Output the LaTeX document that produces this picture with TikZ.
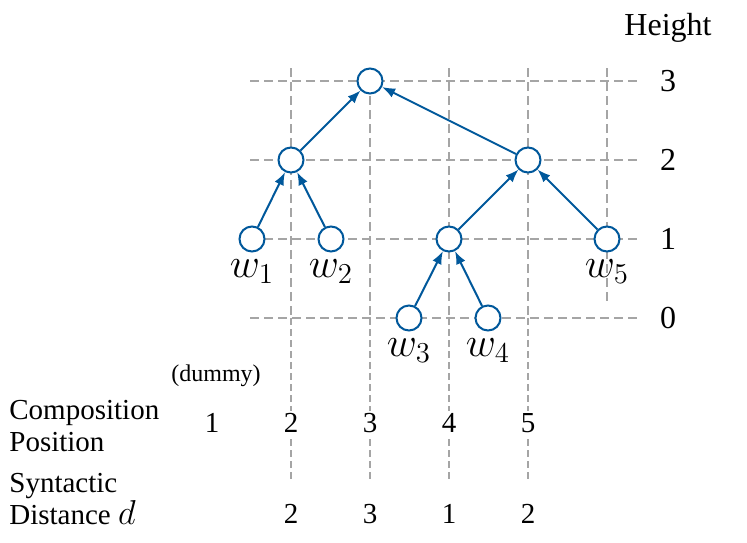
\documentclass[tikz,border=0pt]{standalone}
\usepackage{fontspec}
\setmainfont{Liberation Serif}
\usetikzlibrary{arrows.meta}
\definecolor{treeblue}{RGB}{0,88,155}
\definecolor{gridgray}{RGB}{165,165,165}
\begin{document}
\begin{tikzpicture}[x=0.5pt,y=-0.5pt,
  tnode/.style={circle,draw=treeblue,line width=1pt,fill=white,minimum size=12.5pt,inner sep=0pt},
  edge/.style={draw=treeblue,line width=1pt,-{Latex[length=6.5pt,width=5pt]}},
  gridline/.style={draw=gridgray,line width=0.85pt,dash pattern=on 4.5pt off 2.5pt},
  thingrid/.style={draw=gridgray,line width=0.55pt,dash pattern=on 3.5pt off 2pt},
  wlab/.style={font=\fontsize{20}{24}\selectfont,label distance=0pt},
  txt/.style={font=\fontsize{14.5}{16.4}\selectfont,inner sep=0pt},
  htxt/.style={font=\fontsize{16}{19}\selectfont,inner sep=0pt}]
\useasboundingbox (0,0) rectangle (747,542);
% grid
\foreach \y in {81,160,239,318} \draw[gridline] (250,\y) -- (640,\y);
\foreach \x in {291,370,449,528} {
  \draw[gridline] (\x,68) -- (\x,318);
  \draw[thingrid] (\x,318) -- (\x,482);
}
\draw[gridline] (607,68) -- (607,303);
% nodes
\node[tnode] (r) at (370,81) {};
\node[tnode] (a) at (291,160) {};
\node[tnode] (b) at (528,160) {};
\node[tnode,label={[wlab]below:$w_1$}] (n1) at (252,239) {};
\node[tnode,label={[wlab]below:$w_2$}] (n2) at (331,239) {};
\node[tnode] (c) at (449,239) {};
\node[tnode,label={[wlab]below:$w_5$}] (n5) at (607,239) {};
\node[tnode,label={[wlab]below:$w_3$}] (n3) at (409,318) {};
\node[tnode,label={[wlab]below:$w_4$}] (n4) at (488,318) {};
% edges
\draw[edge] (a) -- (r);
\draw[edge] (b) -- (r);
\draw[edge] (n1) -- (a);
\draw[edge] (n2) -- (a);
\draw[edge] (c) -- (b);
\draw[edge] (n5) -- (b);
\draw[edge] (n3) -- (c);
\draw[edge] (n4) -- (c);
% height labels
\node[htxt] (ht) at (668,28) {Height};
\node[htxt] (h3) at (668,81) {3};
\node[htxt] (h2) at (668,160) {2};
\node[htxt] (h1) at (668,239) {1};
\node[htxt] (h0) at (668,318) {0};
% bottom
\node[font=\fontsize{12}{14}\selectfont,inner sep=0pt] (dm) at (216,376) {(dummy)};
\node[txt,anchor=base west] (cp1) at (9,419) {Composition};
\node[txt,anchor=base west] (cp2) at (9,451.5) {Position};
\node[txt,anchor=base west] (sd1) at (9,492) {Syntactic};
\node[txt,anchor=base west] (sd2) at (9,524) {Distance \fontsize{19}{22}\selectfont$d$};
\foreach \x/\v [count=\i] in {212/1,291/2,370/3,449/4,528/5}
  \node[txt,fill=white,inner sep=1pt] (c\i) at (\x,423) {\v};
\foreach \x/\v [count=\i] in {291/2,370/3,449/1,528/2}
  \node[txt] (s\i) at (\x,514) {\v};
\end{tikzpicture}
\end{document}
